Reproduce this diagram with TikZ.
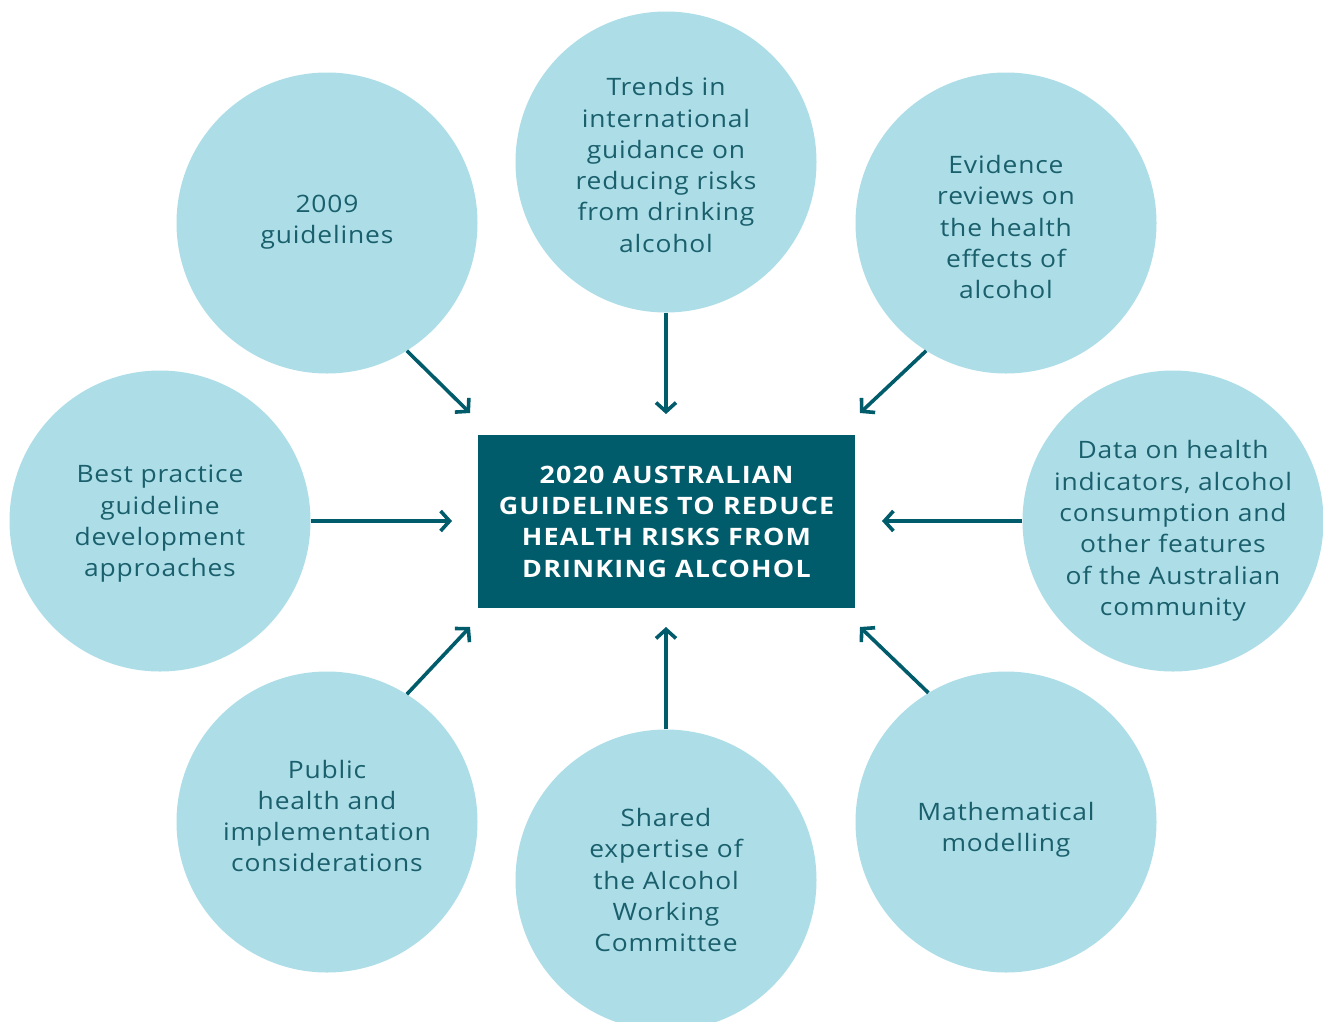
\documentclass[tikz,border=0pt]{standalone}
\usepackage{fontspec}
\setmainfont{Open Sans}[FakeStretch=1.1,LetterSpace=3.5]
\newfontfamily\hubfont{Open Sans}[FakeStretch=1.12,LetterSpace=5]
\usetikzlibrary{arrows.meta}
\definecolor{bubble}{HTML}{ADDEE8}
\definecolor{teal}{HTML}{005B6A}
\definecolor{inktext}{HTML}{1A5F6C}
\begin{document}
\begin{tikzpicture}[x=1pt,y=-1pt,
  bubble/.style={circle,fill=bubble,minimum size=301pt,inner sep=0pt},
  words/.style={align=center,text=inktext,inner sep=0pt,
    font=\fontsize{24}{31.3}\selectfont},
  hub/.style={rectangle,fill=teal,minimum width=377pt,minimum height=173pt,inner sep=0pt,
    align=center,text=white,font=\hubfont\fontsize{24}{31.3}\selectfont\bfseries},
  feed/.style={draw=teal,line width=3.6pt,
    -{Straight Barb[length=9pt,width=20pt,line width=3.6pt]}}]
\useasboundingbox (0,0) rectangle (1323,1021);
\clip (0,0) rectangle (1323,1021);

% central box
\node[hub] (hub) at (666.5,521.5) {2020 AUSTRALIAN\\GUIDELINES TO REDUCE\\HEALTH RISKS FROM\\DRINKING ALCOHOL};

% surrounding inputs
\node[bubble] (old)   at (327,223)  {};
\node[bubble] (trend) at (666,162)  {};
\node[bubble] (evid)  at (1006,223) {};
\node[bubble] (best)  at (160,521)  {};
\node[bubble] (data)  at (1173,521) {};
\node[bubble] (pub)   at (327,822)  {};
\node[bubble] (share) at (666,880)  {};
\node[bubble] (math)  at (1006,822) {};

% their texts
\node[words] (old-t)   at ([yshift=1pt]old.center)    {2009\\guidelines};
\node[words] (trend-t) at ([yshift=-3pt]trend.center) {Trends in\\international\\guidance on\\reducing risks\\from drinking\\alcohol};
\node[words] (evid-t)  at ([yshift=-4pt]evid.center)  {Evidence\\reviews on\\the health\\effects of\\alcohol};
\node[words] (best-t)  at ([yshift=-3pt]best.center)  {Best practice\\guideline\\development\\approaches};
\node[words] (data-t)  at ([yshift=-10pt]data.center) {Data on health\\indicators, alcohol\\consumption and\\other features\\of the Australian\\community};
\node[words] (pub-t)   at ([yshift=6pt]pub.center)    {Public\\health and\\implementation\\considerations};
\node[words] (share-t) at ([yshift=0pt]share.center)  {Shared\\expertise of\\the Alcohol\\Working\\Committee};
\node[words] (math-t)  at ([yshift=-8pt]math.center)  {Mathematical\\modelling};

% arrow tips
\coordinate (t-old)   at (470,413);
\coordinate (t-trend) at (666,414);
\coordinate (t-evid)  at (860,413);
\coordinate (t-best)  at (452,521);
\coordinate (t-data)  at (882,521);
\coordinate (t-pub)   at (470,627);
\coordinate (t-share) at (666,627);
\coordinate (t-math)  at (860,627);

\draw[feed] (old.-58)   -- (t-old);
\draw[feed] (trend.south) -- (t-trend);
\draw[feed] (evid.-122) -- (t-evid);
\draw[feed] (best.east) -- (t-best);
\draw[feed] (data.west) -- (t-data);
\draw[feed] (pub.58)    -- (t-pub);
\draw[feed] (share.north) -- (t-share);
\draw[feed] (math.121)  -- (t-math);
\end{tikzpicture}
\end{document}
